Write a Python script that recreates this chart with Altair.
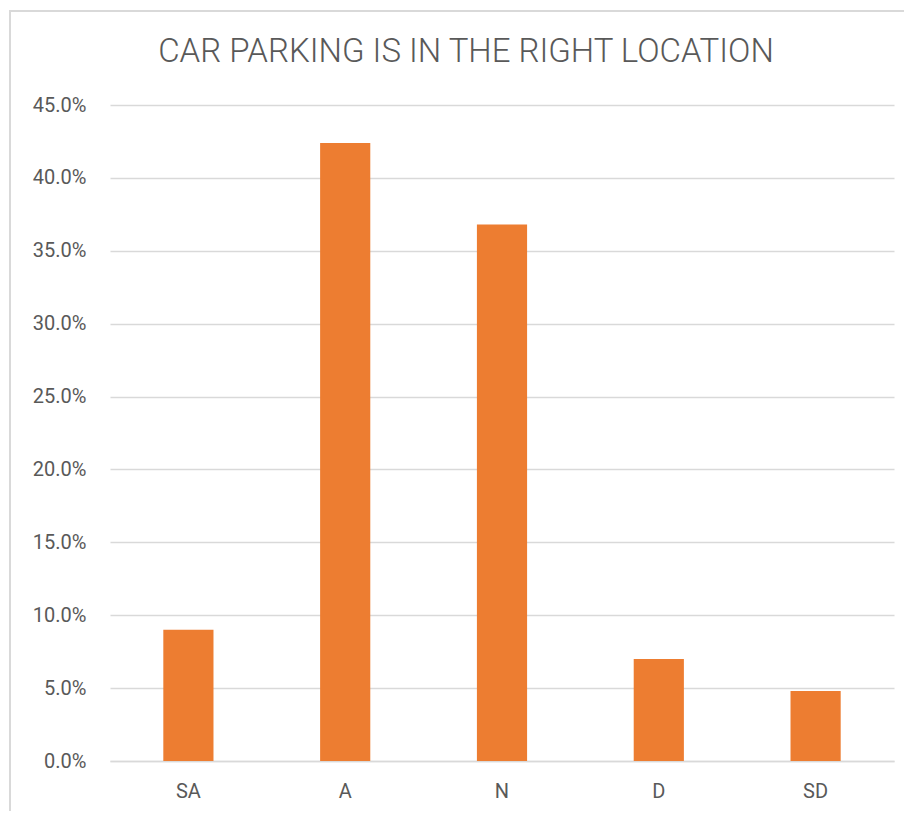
import altair as alt
import pandas as pd

categories = ["SA", "A", "N", "D", "SD"]
values = [0.090, 0.424, 0.368, 0.070, 0.048]
title_text = ["CAR PARKING IS IN THE RIGHT LOCATION"]
y_ticks = [0, 0.05, 0.10, 0.15, 0.20, 0.25, 0.30, 0.35, 0.40, 0.45]

df = pd.DataFrame({"cat": categories, "val": values})

W, H = 784, 656
FONT = "Roboto"
GRAY = "#595959"

bars = alt.Chart(df).mark_bar(color="#ED7D31").encode(
    x=alt.X("cat:N", sort=categories, title=None,
            scale=alt.Scale(paddingInner=0.68, paddingOuter=0.34),
            axis=alt.Axis(labelAngle=0, domain=True, domainColor="#d9d9d9", domainWidth=1.5,
                          ticks=False, labelFontSize=20, labelColor=GRAY, labelFont=FONT,
                          labelPadding=20, grid=False)),
    y=alt.Y("val:Q", title=None,
            scale=alt.Scale(domain=[0, 0.45], nice=False),
            axis=alt.Axis(values=y_ticks, format=".1%", domain=False, ticks=False,
                          labelFontSize=20, labelColor=GRAY, labelFont=FONT, labelPadding=24,
                          gridColor="#d9d9d9", gridWidth=1.5)),
)

border = alt.Chart(pd.DataFrame({"k": [0]})).mark_rect(
    fill=None, stroke="#d9d9d9", strokeWidth=2, clip=False
).encode(
    x=alt.value(-100), x2=alt.value(W + 60), y=alt.value(-94), y2=alt.value(H + 100)
)

title = alt.Chart(pd.DataFrame({"t": title_text})).mark_text(
    font=FONT, fontSize=33, fontWeight=300, color=GRAY, align="center", baseline="alphabetic"
).encode(text="t:N", x=alt.value(356), y=alt.value(-43))

chart = alt.layer(border, bars, title).properties(
    width=W, height=H,
    autosize=alt.AutoSizeParams(type="none"),
    padding={"left": 102, "top": 97, "right": 10, "bottom": 50},
).configure_view(stroke=None)

chart.save("out.html", embed_options={"renderer": "svg", "actions": False})
